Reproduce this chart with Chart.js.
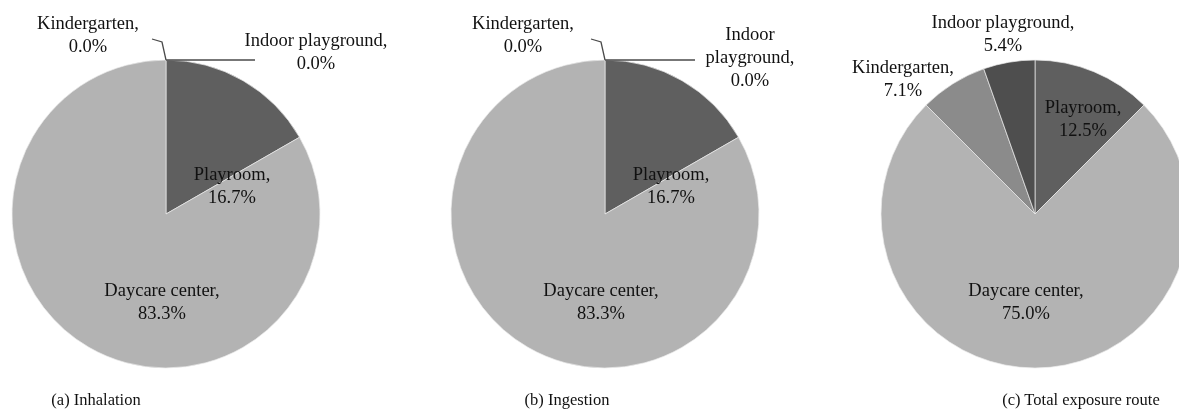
<!DOCTYPE html>
<html>
<head>
<meta charset="utf-8">
<script src="https://cdn.jsdelivr.net/npm/chart.js@4.4.1/dist/chart.umd.min.js"></script>
<style>
  html, body { margin: 0; padding: 0; background: #fff; }
  #wrap { position: relative; width: 1179px; height: 416px; overflow: hidden; background: #fff; }
  #wrap canvas { position: absolute; left: 0; top: 0; }
  .cap { position: absolute; top: 390px; font: 16.5px "Liberation Serif", "Times New Roman", serif; color: #111; white-space: nowrap; transform: translateX(-50%); }
</style>
</head>
<body>
<div id="wrap">
  <canvas id="pieA" width="1179" height="416"></canvas>
  <canvas id="pieB" width="1179" height="416"></canvas>
  <canvas id="pieC" width="1179" height="416"></canvas>
  <div class="cap" style="left:96px">(a) Inhalation</div>
  <div class="cap" style="left:567px">(b) Ingestion</div>
  <div class="cap" style="left:1081px">(c) Total exposure route</div>
</div>
<script>
var categories = ["Playroom", "Daycare center", "Kindergarten", "Indoor playground"];
var inhalationValues = [16.7, 83.3, 0.0, 0.0];
var ingestionValues = [16.7, 83.3, 0.0, 0.0];
var totalValues = [12.5, 75.0, 7.1, 5.4];
var sliceColors = ["#5f5f5f", "#b3b3b3", "#8b8b8b", "#4e4e4e"];

var W = 1179, H = 416;

// label placement, offsets from pie centre (px)
var layoutA = [
    { dx: 66, dy: -39 },
    { dx: -4, dy: 77 },
    { dx: -78, dy: -190, leader: [[0, -154], [-4, -172], [-14, -175]] },
    { dx: 150, dy: -173, leader: [[0, -154], [89, -154]] }
];
var layoutB = [
    { dx: 66, dy: -39 },
    { dx: -4, dy: 77 },
    { dx: -82, dy: -190, leader: [[0, -154], [-4, -172], [-14, -175]] },
    { dx: 145, dy: -179, split: true, leader: [[0, -154], [90, -154]] }
];
var layoutC = [
    { dx: 48, dy: -106 },
    { dx: -9, dy: 77 },
    { dx: -132, dy: -146 },
    { dx: -32, dy: -191 }
];

var labelPlugin = {
    id: "sliceLabels",
    afterDatasetsDraw: function (chart) {
        var ctx = chart.ctx;
        var arcs = chart.getDatasetMeta(0).data;
        var values = chart.data.datasets[0].data;
        var layout = chart.options.plugins.sliceLabels.layout;
        var cx = arcs[0].x, cy = arcs[0].y;
        ctx.save();
        ctx.font = '18.5px "Liberation Serif", "Times New Roman", serif';
        ctx.fillStyle = "#111";
        ctx.textAlign = "center";
        ctx.textBaseline = "middle";
        for (var i = 0; i < layout.length; i++) {
            var l = layout[i];
            if (l.leader) {
                ctx.strokeStyle = "#4a4a4a";
                ctx.lineWidth = 1.3;
                ctx.beginPath();
                for (var k = 0; k < l.leader.length; k++) {
                    var p = l.leader[k];
                    if (k == 0) ctx.moveTo(cx + p[0], cy + p[1]);
                    else ctx.lineTo(cx + p[0], cy + p[1]);
                }
                ctx.stroke();
            }
            var name = chart.data.labels[i];
            var lines;
            if (l.split) {
                var parts = name.split(" ");
                lines = [parts[0], parts.slice(1).join(" ") + ","];
            } else {
                lines = [name + ","];
            }
            lines.push(values[i].toFixed(1) + "%");
            for (var j = 0; j < lines.length; j++)
                ctx.fillText(lines[j], cx + l.dx, cy + l.dy + j * 23);
        }
        ctx.restore();
    }
};

function makePie(id, values, cx, cy, layout) {
    return new Chart(id, {
        type: "pie",
        data: {
            labels: categories,
            datasets: [{
                data: values,
                backgroundColor: sliceColors,
                borderColor: "rgba(235,235,235,0.7)",
                borderWidth: 1
            }]
        },
        options: {
            responsive: false,
            animation: false,
            events: [],
            radius: 154,
            layout: {
                padding: { left: cx - 50, right: W - cx - 50, top: cy - 50, bottom: H - cy - 50 }
            },
            plugins: {
                legend: { display: false },
                tooltip: { enabled: false },
                sliceLabels: { layout: layout }
            }
        },
        plugins: [labelPlugin]
    });
}

makePie("pieA", inhalationValues, 166, 214, layoutA);
makePie("pieB", ingestionValues, 605, 214, layoutB);
makePie("pieC", totalValues, 1035, 214, layoutC);
</script>
</body>
</html>
